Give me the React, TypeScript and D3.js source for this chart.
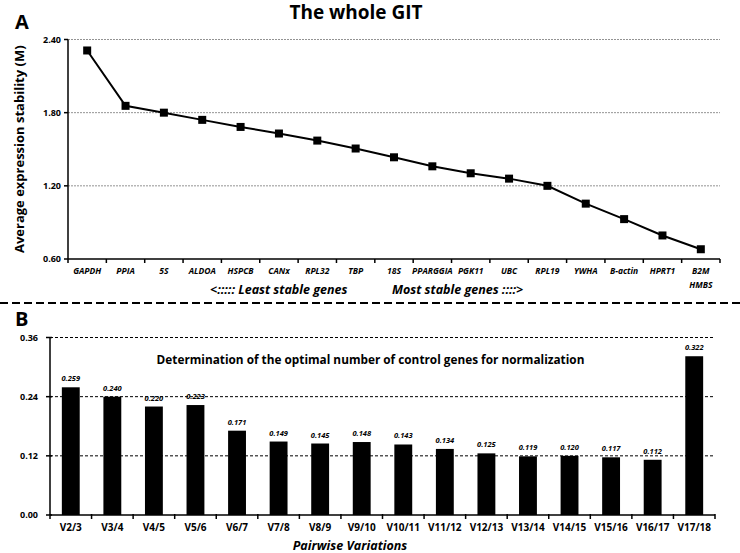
import React from "react";
import * as d3 from "d3";

const genes = ["GAPDH", "PPIA", "5S", "ALDOA", "HSPCB", "CANx", "RPL32", "TBP", "18S", "PPARGGIA", "PGK11", "UBC", "RPL19", "YWHA", "B-actin", "HPRT1", "B2M"];
const stability = [2.31, 1.856, 1.80, 1.741, 1.683, 1.629, 1.571, 1.506, 1.434, 1.36, 1.303, 1.259, 1.20, 1.054, 0.927, 0.793, 0.68];
const ticksA = [0.6, 1.2, 1.8, 2.4];

const pairs = ["V2/3", "V3/4", "V4/5", "V5/6", "V6/7", "V7/8", "V8/9", "V9/10", "V10/11", "V11/12", "V12/13", "V13/14", "V14/15", "V15/16", "V16/17", "V17/18"];
const pairValues = [0.259, 0.240, 0.220, 0.223, 0.171, 0.149, 0.145, 0.148, 0.143, 0.134, 0.125, 0.119, 0.120, 0.117, 0.112, 0.322];
const ticksB = [0, 0.12, 0.24, 0.36];

const FONT = "'Open Sans', 'Noto Sans', sans-serif";

export default function App() {
  const W = 740, H = 553;
  // Panel A
  const ax0 = 68, ax1 = 720, ay0 = 259, ay1 = 39.5;
  const xA = d3.scaleBand<string>().domain(genes).range([ax0, ax1]);
  const yA = d3.scaleLinear().domain([0.6, 2.4]).range([ay0, ay1]);
  const line = d3.line<number>().x((_, i) => (xA(genes[i]) as number) + xA.bandwidth() / 2).y(d => yA(d));

  // Panel B
  const bx0 = 50, bx1 = 715, by0 = 515, by1 = 337.5;
  const xB = d3.scaleBand<string>().domain(pairs).range([bx0, bx1]).paddingInner(0.57).paddingOuter(0.285);
  const yB = d3.scaleLinear().domain([0, 0.36]).range([by0, by1]);
  const stepB = (bx1 - bx0) / pairs.length;

  return (
    <svg width={W} height={H} style={{ display: "block", position: "absolute", left: 0, top: 0 }} fontFamily={FONT}>
      <rect width={W} height={H} fill="#fff" />
      {/* Panel A */}
      <text x={356} y={19} textAnchor="middle" fontSize={19} fontWeight="bold">The whole GIT</text>
      <text x={15} y={29} fontSize={20} fontWeight="bold">A</text>
      {ticksA.map(t => (
        <g key={t}>
          {t > 0.6 && <line x1={ax0} x2={ax1} y1={yA(t)} y2={yA(t)} stroke="#777" strokeWidth={0.8} strokeDasharray="2,1" />}
          <line x1={ax0 - 4} x2={ax0} y1={yA(t)} y2={yA(t)} stroke="#000" strokeWidth={1.5} />
          <text x={ax0 - 7} y={yA(t) + 3} textAnchor="end" fontSize={9} fontWeight="bold">{t.toFixed(2)}</text>
        </g>
      ))}
      <line x1={ax0} x2={ax0} y1={ay1} y2={ay0} stroke="#000" strokeWidth={1.5} />
      <line x1={ax0} x2={ax1} y1={ay0} y2={ay0} stroke="#000" strokeWidth={1.5} />
      {d3.range(genes.length + 1).map(i => (
        <line key={i} x1={ax0 + i * xA.step()} x2={ax0 + i * xA.step()} y1={ay0} y2={ay0 + 4} stroke="#000" strokeWidth={1.5} />
      ))}
      <path d={line(stability) || ""} fill="none" stroke="#000" strokeWidth={2} />
      {stability.map((v, i) => (
        <rect key={i} x={(xA(genes[i]) as number) + xA.bandwidth() / 2 - 4} y={yA(v) - 4} width={8} height={8} fill="#000" />
      ))}
      {genes.map(g => (
        <text key={g} x={(xA(g) as number) + xA.bandwidth() / 2} y={274} textAnchor="middle" fontSize={8.5} fontWeight="bold" fontStyle="italic">{g}</text>
      ))}
      <text x={(xA("B2M") as number) + xA.bandwidth() / 2} y={288} textAnchor="middle" fontSize={8.5} fontWeight="bold" fontStyle="italic">HMBS</text>
      <text x={24} y={(ay0 + ay1) / 2} transform={`rotate(-90 24 ${(ay0 + ay1) / 2})`} textAnchor="middle" fontSize={13} fontWeight="bold">Average expression stability (M)</text>
      <text x={210} y={294} fontSize={12.5} fontWeight="bold" fontStyle="italic">{"<:::::  Least stable genes"}</text>
      <text x={392} y={294} fontSize={12.5} fontWeight="bold" fontStyle="italic">{"Most stable genes ::::>"}</text>

      {/* Separator */}
      <line x1={0} x2={W} y1={303} y2={303} stroke="#000" strokeWidth={2} strokeDasharray="8,4" />

      {/* Panel B */}
      <text x={15} y={326} fontSize={20} fontWeight="bold">B</text>
      {ticksB.map(t => (
        <g key={t}>
          {t > 0 && <line x1={bx0} x2={bx1} y1={yB(t)} y2={yB(t)} stroke="#000" strokeWidth={1} strokeDasharray="3,2" />}
          <line x1={bx0 - 4} x2={bx0 + 2} y1={yB(t)} y2={yB(t)} stroke="#000" strokeWidth={1.5} />
          <text x={bx0 - 12} y={yB(t) + 3} textAnchor="end" fontSize={9} fontWeight="bold">{t.toFixed(2)}</text>
        </g>
      ))}
      {pairs.map((p, i) => (
        <g key={p}>
          <rect x={xB(p)} y={yB(pairValues[i])} width={xB.bandwidth()} height={by0 - yB(pairValues[i])} fill="#000" />
          <text x={(xB(p) as number) + xB.bandwidth() / 2} y={yB(pairValues[i]) - 6} textAnchor="middle" fontSize={7.5} fontWeight="bold" fontStyle="italic" fill="#000">{pairValues[i].toFixed(3)}</text>
          <text x={(xB(p) as number) + xB.bandwidth() / 2} y={531} textAnchor="middle" fontSize={10} fontWeight="bold">{p}</text>
        </g>
      ))}
      <line x1={bx0} x2={bx0} y1={by1} y2={by0} stroke="#000" strokeWidth={1.5} />
      <line x1={bx0} x2={bx1} y1={by0} y2={by0} stroke="#000" strokeWidth={1.5} />
      {d3.range(pairs.length + 1).map(i => (
        <line key={i} x1={bx0 + i * stepB} x2={bx0 + i * stepB} y1={by0 - 1} y2={by0 + 4} stroke="#000" strokeWidth={1.5} />
      ))}
      <text x={370.5} y={364} textAnchor="middle" fontSize={11.8} fontWeight="bold">Determination of the optimal number of control genes for normalization</text>
      <text x={350} y={550} textAnchor="middle" fontSize={12.5} fontWeight="bold" fontStyle="italic">Pairwise Variations</text>
    </svg>
  );
}
